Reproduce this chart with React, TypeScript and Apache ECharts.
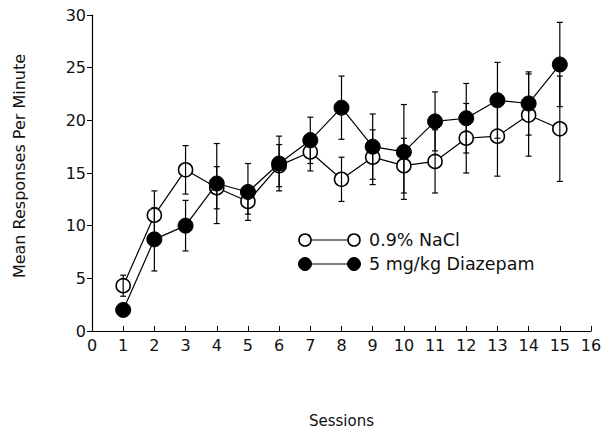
import React, { useEffect, useRef } from "react";
import * as echarts from "echarts";

const sessions = [1, 2, 3, 4, 5, 6, 7, 8, 9, 10, 11, 12, 13, 14, 15];
const salineMean = [4.3, 11.0, 15.3, 13.6, 12.3, 15.7, 17.0, 14.4, 16.5, 15.7, 16.1, 18.3, 18.5, 20.5, 19.2];
const salineSem = [1.0, 2.3, 2.3, 2.0, 1.2, 2.0, 1.8, 2.1, 2.6, 2.6, 3.0, 3.3, 3.8, 3.9, 5.0];
const diazepamMean = [2.0, 8.7, 10.0, 14.0, 13.2, 15.9, 18.1, 21.2, 17.5, 17.0, 19.9, 20.2, 21.9, 21.6, 25.3];
const diazepamSem = [0.3, 3.0, 2.4, 3.8, 2.7, 2.6, 2.2, 3.0, 3.1, 4.5, 2.8, 3.3, 3.6, 3.0, 4.0];
const legendLabels = ["0.9% NaCl", "5 mg/kg Diazepam"];
const yTitle = "Mean Responses Per Minute";
const xTitle = "Sessions";

const FONT = "DejaVu Sans";

function errorData(mean: number[], sem: number[]) {
  return sessions.map((s, i) => [s, mean[i] - sem[i], mean[i] + sem[i]]);
}

function renderErr(params: any, api: any) {
  const x = api.value(0);
  const lo = api.coord([x, api.value(1)]);
  const hi = api.coord([x, api.value(2)]);
  const w = 3;
  const style = { stroke: "#000", lineWidth: 1.2 };
  return {
    type: "group",
    children: [
      { type: "line", shape: { x1: lo[0], y1: lo[1], x2: hi[0], y2: hi[1] }, style },
      { type: "line", shape: { x1: lo[0] - w, y1: lo[1], x2: lo[0] + w, y2: lo[1] }, style },
      { type: "line", shape: { x1: hi[0] - w, y1: hi[1], x2: hi[0] + w, y2: hi[1] }, style },
    ],
  };
}

export default function App() {
  const ref = useRef<HTMLDivElement>(null);
  useEffect(() => {
    if (!ref.current) return;
    const chart = echarts.init(ref.current, null, { renderer: "svg" });
    const lx1 = 305, lx2 = 354, ly1 = 240, ly2 = 264, tx = 369;
    chart.setOption({
      animation: false,
      backgroundColor: "#fff",
      grid: { left: 92, right: 14, top: 15, bottom: 103 },
      xAxis: {
        type: "value",
        min: 0,
        max: 16,
        interval: 1,
        name: xTitle,
        nameLocation: "middle",
        nameGap: 82,
        nameTextStyle: { fontFamily: FONT, fontSize: 15, color: "#111" },
        axisLine: { lineStyle: { color: "#000", width: 1.2 } },
        axisTick: { inside: true, length: 5, lineStyle: { color: "#000" } },
        axisLabel: { fontFamily: FONT, fontSize: 16, color: "#111", margin: 6 },
        splitLine: { show: false },
      },
      yAxis: {
        type: "value",
        min: 0,
        max: 30,
        interval: 5,
        axisLine: { show: true, lineStyle: { color: "#000", width: 1.2 } },
        axisTick: { show: true, length: 5, lineStyle: { color: "#000" } },
        axisLabel: { fontFamily: FONT, fontSize: 16, color: "#111", margin: 6 },
        splitLine: { show: false },
      },
      series: [
        {
          type: "line",
          name: legendLabels[0],
          data: sessions.map((s, i) => [s, salineMean[i]]),
          symbol: "circle",
          symbolSize: 14,
          lineStyle: { color: "#000", width: 1.2 },
          itemStyle: { color: "#fff", borderColor: "#000", borderWidth: 1.6 },
          z: 3,
        },
        {
          type: "line",
          name: legendLabels[1],
          data: sessions.map((s, i) => [s, diazepamMean[i]]),
          symbol: "circle",
          symbolSize: 15,
          lineStyle: { color: "#000", width: 1.2 },
          itemStyle: { color: "#000", borderColor: "#000", borderWidth: 1 },
          z: 4,
        },
        {
          type: "custom",
          renderItem: renderErr,
          data: errorData(salineMean, salineSem),
          encode: { x: 0, y: [1, 2] },
          z: 5,
        },
        {
          type: "custom",
          renderItem: renderErr,
          data: errorData(diazepamMean, diazepamSem),
          encode: { x: 0, y: [1, 2] },
          z: 5,
        },
      ],
      graphic: [
        {
          type: "text",
          x: 19,
          y: 166,
          rotation: Math.PI / 2,
          style: { text: yTitle, fontFamily: FONT, fontSize: 16, fill: "#111", align: "center", verticalAlign: "middle" },
        },
        { type: "line", shape: { x1: lx1, y1: ly1, x2: lx2, y2: ly1 }, style: { stroke: "#000", lineWidth: 1 } },
        { type: "circle", shape: { cx: lx1, cy: ly1, r: 6 }, style: { fill: "#fff", stroke: "#000", lineWidth: 1.6 } },
        { type: "circle", shape: { cx: lx2, cy: ly1, r: 6 }, style: { fill: "#fff", stroke: "#000", lineWidth: 1.6 } },
        { type: "text", x: tx, y: ly1, style: { text: legendLabels[0], fontFamily: FONT, fontSize: 17.5, fill: "#111", verticalAlign: "middle" } },
        { type: "line", shape: { x1: lx1, y1: ly2, x2: lx2, y2: ly2 }, style: { stroke: "#000", lineWidth: 1 } },
        { type: "circle", shape: { cx: lx1, cy: ly2, r: 6.5 }, style: { fill: "#000", stroke: "#000", lineWidth: 1 } },
        { type: "circle", shape: { cx: lx2, cy: ly2, r: 6.5 }, style: { fill: "#000", stroke: "#000", lineWidth: 1 } },
        { type: "text", x: tx, y: ly2, style: { text: legendLabels[1], fontFamily: FONT, fontSize: 17.5, fill: "#111", verticalAlign: "middle" } },
      ],
    });
    return () => chart.dispose();
  }, []);
  return <div ref={ref} style={{ width: 605, height: 434, position: "absolute", left: 0, top: 0 }} />;
}
